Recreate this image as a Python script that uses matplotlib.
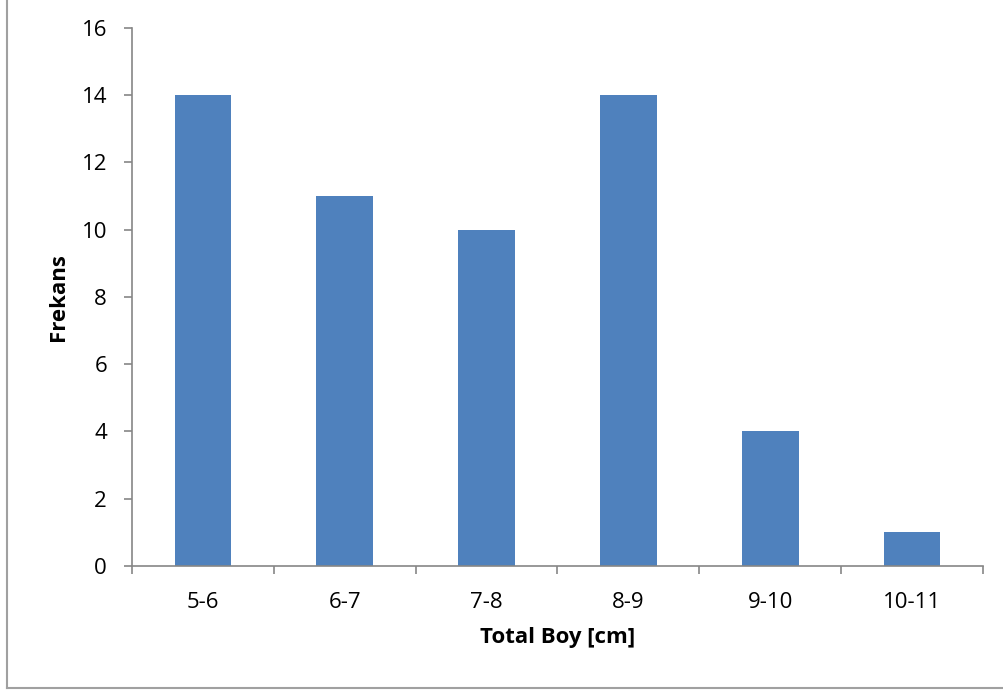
import numpy as np
import matplotlib.pyplot as plt
from matplotlib.lines import Line2D

# Data
categories = ['5-6', '6-7', '7-8', '8-9', '9-10', '10-11']
frequencies = [14, 11, 10, 14, 4, 1]

plt.rcParams['font.family'] = ['Open Sans', 'DejaVu Sans']

fig = plt.figure(figsize=(10.04, 6.91), dpi=100)
ax = fig.add_axes([0.1315, 0.1809, 0.8475, 0.7786])

x = np.arange(len(categories))
ax.bar(x, frequencies, width=0.4, color='#4F81BD')

ax.set_xlim(-0.5, len(categories) - 0.5)
ax.set_ylim(0, 16)
ax.set_yticks(range(0, 17, 2))
ax.set_xticks(x)
ax.set_xticklabels(categories)
ax.set_xticks(np.arange(-0.5, len(categories), 1), minor=True)

grey = '#868686'
for side in ['top', 'right']:
    ax.spines[side].set_visible(False)
for side in ['left', 'bottom']:
    ax.spines[side].set_color(grey)
    ax.spines[side].set_linewidth(1.2)

ax.tick_params(axis='y', length=6, width=1.2, color=grey, labelsize=16, pad=12)
ax.tick_params(axis='x', which='major', length=0, labelsize=16, pad=19)
ax.tick_params(axis='x', which='minor', length=6, width=1.2, color=grey)

ax.set_xlabel('Total Boy [cm]', fontsize=16, fontweight='bold', labelpad=10)
ax.set_ylabel('Frekans', fontsize=16, fontweight='bold', labelpad=9)

# outer chart frame
fig.add_artist(Line2D([0.0065, 0.0065], [0.005, 1.0], transform=fig.transFigure, color='#A0A0A0', lw=1.5))
fig.add_artist(Line2D([0.0065, 1.0], [0.005, 0.005], transform=fig.transFigure, color='#A0A0A0', lw=1.5))

fig.savefig('out.png', dpi=100)
